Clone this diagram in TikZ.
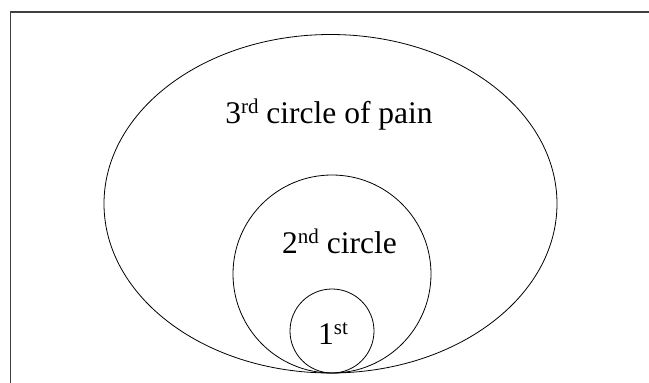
\documentclass[tikz,border=0pt]{standalone}
\usepackage{fontspec}
\setmainfont{Liberation Serif}
\newcommand{\supr}[1]{\raisebox{0.3em}{\fontsize{21}{21}\selectfont #1}}
\begin{document}
\begin{tikzpicture}[x=1pt,y=-1pt,
  ring/.style={draw=black,line width=0.8pt},
  lbl/.style={font=\fontsize{31.5}{31.5}\selectfont,inner sep=0pt,anchor=base}]
\useasboundingbox (0,0) rectangle (649,383);
\draw[line width=1.3pt,draw=black!75] (10.5,383) -- (10.5,12) -- (649,12);
\draw[ring] (330.5,203.75) ellipse [x radius=226.5, y radius=169.25];
\draw[ring] (332,274) circle [radius=99];
\draw[ring] (332,331) circle [radius=42];
\node[lbl] (third) at (329,123) {3\supr{rd} circle of pain};
\node[lbl] (second) at (339.5,253) {2\supr{nd} circle};
\node[lbl] (first) at (333,344) {1\supr{st}};
\end{tikzpicture}
\end{document}
